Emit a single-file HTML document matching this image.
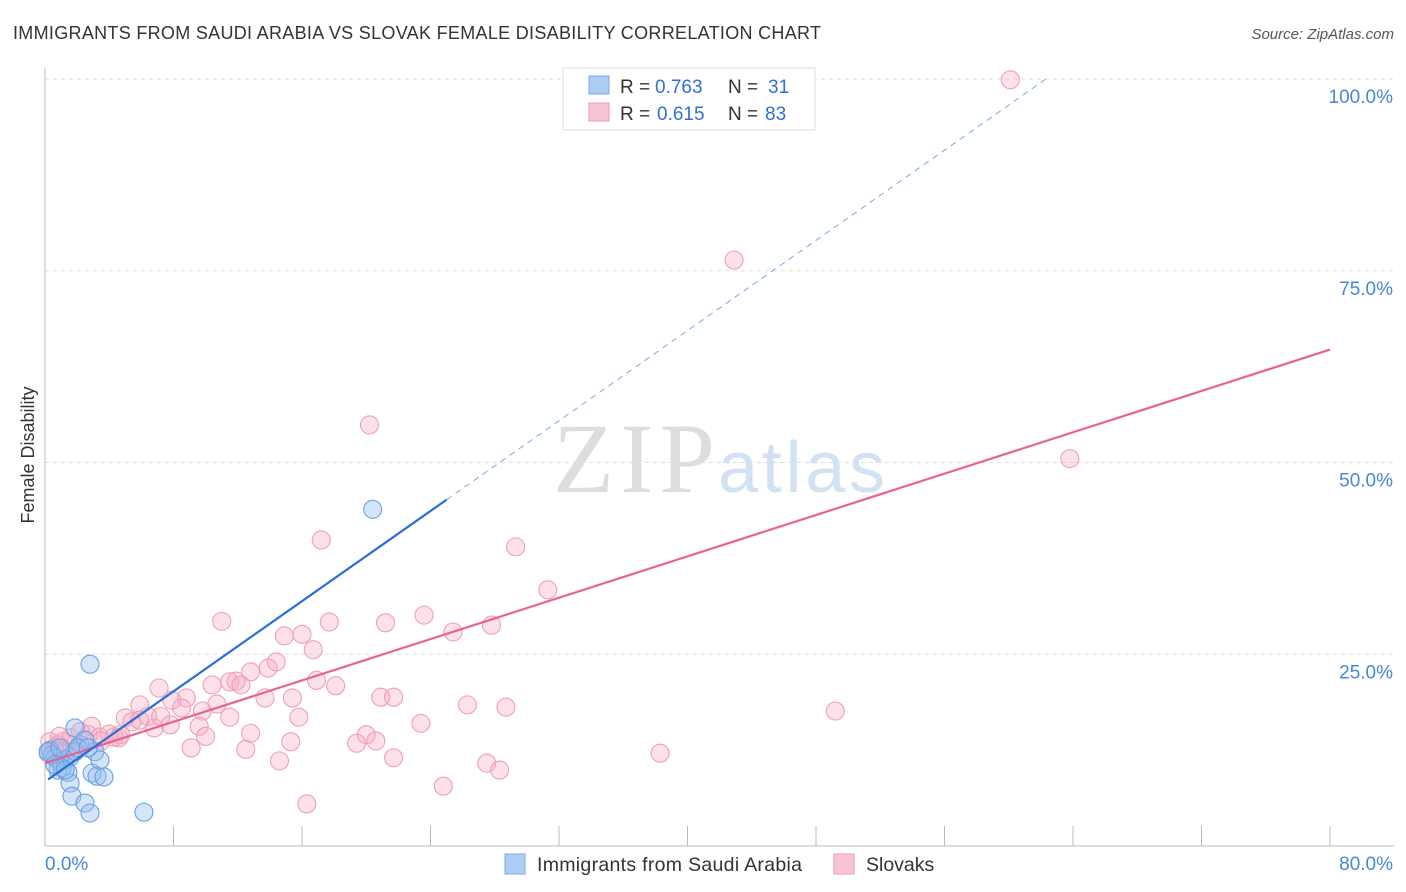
<!DOCTYPE html>
<html><head><meta charset="utf-8"><style>
body{margin:0;background:#fff;font-family:"Liberation Sans",sans-serif;}
svg{display:block}
</style></head><body>
<svg id="chart" width="1406" height="892">
<text x="13" y="39" font-size="18" fill="#333" textLength="808">IMMIGRANTS FROM SAUDI ARABIA VS SLOVAK FEMALE DISABILITY CORRELATION CHART</text>
<text x="1394" y="39" font-size="15" fill="#555" font-style="italic" text-anchor="end">Source: ZipAtlas.com</text>
<text x="34" y="455" font-size="18" fill="#333" transform="rotate(-90 34 455)" text-anchor="middle">Female Disability</text>
<g id="grid"></g>
<text x="553" y="492" font-size="100" fill="#ddd" font-family="Liberation Serif" textLength="162">ZIP</text>
<text x="718" y="492" font-size="72" fill="#d3e2f2" textLength="167">atlas</text>
<g id="marks"></g>
<g>
<rect x="563" y="68" width="252" height="62" fill="#fff" stroke="#ddd"/>
<rect x="589" y="76" width="20" height="18" fill="#aecdf5" stroke="#7aa9e6"/>
<rect x="589" y="103" width="20" height="18" fill="#f9c4d4" stroke="#ee9ab3"/>
<text x="620" y="93" font-size="19" fill="#333">R =</text>
<text x="655" y="93" font-size="19" fill="#2f6fd6">0.763</text>
<text x="728" y="93" font-size="19" fill="#333">N =</text>
<text x="768" y="93" font-size="19" fill="#2f6fd6">31</text>
<text x="620" y="120" font-size="19" fill="#333">R =</text>
<text x="657" y="120" font-size="19" fill="#2f6fd6">0.615</text>
<text x="728" y="120" font-size="19" fill="#333">N =</text>
<text x="765" y="120" font-size="19" fill="#2f6fd6">83</text>
</g>
<g>
<rect x="505" y="854" width="20" height="20" fill="#aecdf5" stroke="#7aa9e6"/>
<text x="537" y="871" font-size="19.5" fill="#333" textLength="265">Immigrants from Saudi Arabia</text>
<rect x="834" y="854" width="20" height="20" fill="#f9c4d4" stroke="#ee9ab3"/>
<text x="866" y="871" font-size="19.5" fill="#333">Slovaks</text>
</g>
</svg>
<script>
const blueX=[2.8,20.4,1.87,2.18,3.11,2.49,0.31,0.62,0.93,1.25,1.56,0.81,1.43,1.06,2.93,3.24,3.67,1.56,1.68,2.49,2.8,6.16,0.44,0.19,1.87,2.05,3.42,0.62,1.25,2.68,0.93];
const blueY=[23.7,43.9,15.4,13.2,12.3,13.8,12.5,11.5,11.0,11.2,11.6,9.9,9.6,10.2,9.5,9.1,9.0,8.2,6.5,5.6,4.3,4.4,11.9,12.3,12.3,12.8,11.2,10.6,9.9,12.8,12.8];
const pinkX=[60.1,42.9,20.2,63.8,17.2,29.3,31.3,11.0,17.7,21.2,23.6,25.4,27.8,14.9,16.0,16.7,14.4,13.9,12.8,16.9,18.1,10.4,11.5,11.9,12.2,7.1,13.7,15.4,20.9,21.7,8.8,7.9,8.5,10.7,5.9,26.3,28.7,49.2,9.8,15.8,11.5,5.0,6.4,7.2,2.9,5.4,7.8,9.6,6.8,23.4,12.8,10.0,2.7,3.4,4.3,4.0,20.0,15.3,19.4,20.6,1.1,1.6,3.5,4.7,9.1,12.5,38.3,21.7,14.6,27.5,28.3,24.8,16.3,0.3,0.6,0.8,1.3,2.2,0.2,4.6,5.9,0.9,1.9];
const pinkY=[99.9,76.4,54.9,50.5,39.9,39.0,33.4,29.3,29.2,29.1,30.1,27.9,28.8,27.4,27.6,25.6,24.0,23.2,22.7,21.6,20.9,21.0,21.4,21.5,21.0,20.6,19.3,19.3,19.4,19.4,19.3,19.0,18.0,18.5,18.4,18.4,18.1,17.6,17.6,16.8,16.8,16.7,16.9,16.9,15.6,16.2,15.8,15.6,15.4,16.0,14.7,14.3,14.5,14.2,14.2,14.6,14.5,13.6,13.4,13.7,13.6,14.1,13.7,14.5,12.8,12.6,12.1,11.5,11.1,10.8,9.9,7.8,5.5,13.6,12.8,13.2,12.5,14.9,12.1,14.1,16.4,14.3,12.5];
const yTicks=[25,50,75,100];
const yTickLabels=["25.0%","50.0%","75.0%","100.0%"];
const blueFit=[8.4,1.47];
const pinkFit=[10.8,0.674];
const NS="http://www.w3.org/2000/svg";
const sx=v=>45+v/80*1285, sy=v=>846-v*7.67;
function mk(t,a,p){const e=document.createElementNS(NS,t);for(const k in a)e.setAttribute(k,a[k]);p.appendChild(e);return e;}
const grid=document.getElementById('grid'),marks=document.getElementById('marks');
yTicks.forEach((t,i)=>{
 const l=mk('line',{x1:45,x2:1394,y1:sy(t),y2:sy(t),stroke:'#ddd','stroke-dasharray':'4 4'},grid);
 
 
 const tx=mk('text',{x:1393,y:sy(t)+24,'font-size':19,fill:'#4a86d8','text-anchor':'end'},grid);
 tx.textContent=yTickLabels[i];
 
 
});
const ax=mk('line',{x1:45,x2:45,y1:68,y2:846,stroke:'#bbb'},grid);


const bx=mk('line',{x1:45,x2:1394,y1:846,y2:846,stroke:'#bbb'},grid);


for(let i=1;i<=10;i++){const x=sx(i*8);const t=mk('line',{x1:x,x2:x,y1:826,y2:846,stroke:'#bbb'},grid);
 
 }
[["0.0%",45,'start'],["80.0%",1393,'end']].forEach(d=>{const t=mk('text',{x:d[1],y:870,'font-size':19,fill:'#4a86d8','text-anchor':d[2]},grid);t.textContent=d[0];
 
 });
pinkX.forEach((x,i)=>{const c=mk('circle',{cx:sx(x),cy:sy(pinkY[i]),r:9,fill:'rgba(246,170,195,0.35)',stroke:'#eea0b8','stroke-width':1.1},marks);
 
 });
blueX.forEach((x,i)=>{const c=mk('circle',{cx:sx(x),cy:sy(blueY[i]),r:9,fill:'rgba(150,190,240,0.4)',stroke:'#6a9fe2','stroke-width':1.1},marks);
 
 });
const pl=mk('line',{x1:sx(0),y1:sy(pinkFit[0]),x2:sx(80),y2:sy(pinkFit[0]+80*pinkFit[1]),stroke:'#e8648e','stroke-width':2.2},marks);


const bl=mk('line',{x1:sx(0.19),y1:sy(blueFit[0]+0.19*blueFit[1]),x2:sx(25),y2:sy(blueFit[0]+25*blueFit[1]),stroke:'#2a6fd6','stroke-width':2.2},marks);


const xe=(100-blueFit[0])/blueFit[1];
const bd=mk('line',{x1:sx(25),y1:sy(blueFit[0]+25*blueFit[1]),x2:sx(xe),y2:sy(100),stroke:'#7aa6e6','stroke-width':1,'stroke-dasharray':'6 5'},marks);


</script>
</body></html>
